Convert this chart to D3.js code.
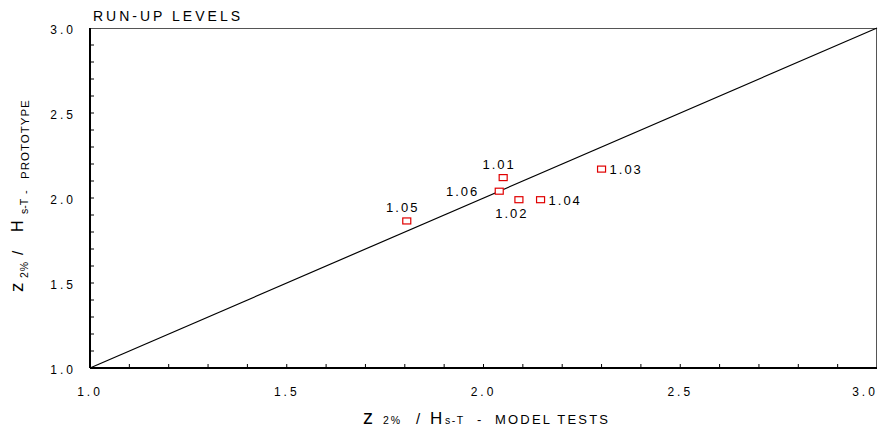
<!DOCTYPE html>
<html>
<head>
<meta charset="utf-8">
<script src="https://cdn.jsdelivr.net/npm/d3@7"></script>
<style>
  body { margin: 0; background: #fff; }
  text { font-family: "Liberation Sans", Arial, sans-serif; fill: #000; }
</style>
</head>
<body>
<div id="wrapper"></div>
<script>
// data
const testIds = ["1.01", "1.02", "1.03", "1.04", "1.05", "1.06"]
const modelTests = [2.05, 2.09, 2.30, 2.145, 1.805, 2.04]
const prototype = [2.12, 1.99, 2.17, 1.99, 1.865, 2.04]
const labelSide = ["above", "below", "right", "right", "above", "left"]
const tickValues = [1.0, 1.5, 2.0, 2.5, 3.0]

const dimensions = {
  width: 889,
  height: 428,
  margin: { top: 28, right: 12, bottom: 60, left: 90 },
}
dimensions.boundedWidth = dimensions.width - dimensions.margin.left - dimensions.margin.right
dimensions.boundedHeight = dimensions.height - dimensions.margin.top - dimensions.margin.bottom

const svg = d3.select("#wrapper").append("svg")
    .attr("width", dimensions.width)
    .attr("height", dimensions.height)

const bounds = svg.append("g")
    .attr("transform", `translate(${dimensions.margin.left},${dimensions.margin.top})`)

const xScale = d3.scaleLinear().domain([1, 3]).range([0, dimensions.boundedWidth])
const yScale = d3.scaleLinear().domain([1, 3]).range([dimensions.boundedHeight, 0])

// frame: thin top/right
bounds.append("line")
    .attr("x1", 0).attr("x2", dimensions.boundedWidth)
    .attr("y1", 0.5).attr("y2", 0.5)
    .attr("stroke", "#555").attr("stroke-width", 1)
bounds.append("line")
    .attr("x1", dimensions.boundedWidth - 0.5).attr("x2", dimensions.boundedWidth - 0.5)
    .attr("y1", 0).attr("y2", dimensions.boundedHeight)
    .attr("stroke", "#555").attr("stroke-width", 1)

// minor ticks (inside)
const minor = d3.range(1.1, 3.0, 0.1)
bounds.selectAll(".xminor").data(minor).join("line")
    .attr("x1", d => xScale(d)).attr("x2", d => xScale(d))
    .attr("y1", dimensions.boundedHeight).attr("y2", dimensions.boundedHeight - 4)
    .attr("stroke", "#000")
bounds.selectAll(".yminor").data(minor).join("line")
    .attr("y1", d => yScale(d)).attr("y2", d => yScale(d))
    .attr("x1", 0).attr("x2", 4)
    .attr("stroke", "#000")

// thick left/bottom axes
bounds.append("line")
    .attr("x1", 0).attr("x2", dimensions.boundedWidth)
    .attr("y1", dimensions.boundedHeight).attr("y2", dimensions.boundedHeight)
    .attr("stroke", "#000").attr("stroke-width", 2)
bounds.append("line")
    .attr("x1", 0).attr("x2", 0)
    .attr("y1", 0).attr("y2", dimensions.boundedHeight)
    .attr("stroke", "#000").attr("stroke-width", 2)

// tick labels (last x label kept inside the window)
bounds.selectAll(".xlab").data(tickValues).join("text")
    .attr("x", d => Math.min(xScale(d), dimensions.boundedWidth - 12))
    .attr("y", dimensions.boundedHeight + 28)
    .attr("text-anchor", "middle")
    .style("font-size", "12px")
    .style("letter-spacing", "3px")
    .text(d => d.toFixed(1))
bounds.selectAll(".ylab").data(tickValues).join("text")
    .attr("x", -14)
    .attr("y", d => yScale(d) + 6)
    .attr("text-anchor", "end")
    .style("font-size", "12px")
    .style("letter-spacing", "3px")
    .text(d => d.toFixed(1))

// 1:1 line
bounds.append("line")
    .attr("x1", xScale(1)).attr("y1", yScale(1))
    .attr("x2", xScale(3)).attr("y2", yScale(3))
    .attr("stroke", "#000").attr("stroke-width", 1.2)

// points
const points = testIds.map((id, i) => ({ id, x: modelTests[i], y: prototype[i], side: labelSide[i] }))
bounds.selectAll(".pt").data(points).join("rect")
    .attr("x", d => xScale(d.x) - 4)
    .attr("y", d => yScale(d.y) - 3)
    .attr("width", 8).attr("height", 6)
    .attr("fill", "#fff").attr("stroke", "#e00000").attr("stroke-width", 1.2)

const offset = {
  above: { dx: -4, dy: -9, anchor: "middle" },
  below: { dx: -7, dy: 18, anchor: "middle" },
  right: { dx: 8, dy: 5, anchor: "start" },
  left: { dx: -20, dy: 5, anchor: "end" },
}
bounds.selectAll(".plab").data(points).join("text")
    .attr("x", d => xScale(d.x) + offset[d.side].dx)
    .attr("y", d => yScale(d.y) + offset[d.side].dy)
    .attr("text-anchor", d => offset[d.side].anchor)
    .style("font-size", "13px")
    .style("letter-spacing", "2px")
    .text(d => d.id)

// title
svg.append("text")
    .attr("x", 93).attr("y", 21)
    .style("font-size", "14px")
    .style("letter-spacing", "3px")
    .text("RUN-UP LEVELS")

// x axis title
const xt = svg.append("text").attr("y", 424)
xt.append("tspan").attr("x", 363).style("font-size", "20px").text("z")
xt.append("tspan").attr("x", 383).style("font-size", "10.5px").style("letter-spacing", "2px").text("2%")
xt.append("tspan").attr("x", 416).style("font-size", "15px").text("/")
xt.append("tspan").attr("x", 430).style("font-size", "17px").text("H")
xt.append("tspan").attr("x", 445).style("font-size", "10.5px").style("letter-spacing", "1.5px").text("s-T")
xt.append("tspan").attr("x", 477).style("font-size", "13px").text("-")
xt.append("tspan").attr("x", 495).style("font-size", "13px").style("letter-spacing", "2.2px").text("MODEL TESTS")

// y axis title (rotated; x' runs upward)
const yt = svg.append("text").attr("transform", "translate(23,0) rotate(-90)")
yt.append("tspan").attr("x", -292).attr("y", 0).style("font-size", "19px").text("z")
yt.append("tspan").attr("x", -278).attr("y", 5).style("font-size", "10.5px").style("letter-spacing", "1px").text("2%")
yt.append("tspan").attr("x", -255).attr("y", 0).style("font-size", "15px").text("/")
yt.append("tspan").attr("x", -232).attr("y", 0).style("font-size", "16px").text("H")
yt.append("tspan").attr("x", -214).attr("y", 5).style("font-size", "10.5px").text("s-T")
yt.append("tspan").attr("x", -194).attr("y", 6).style("font-size", "11px").text("-")
yt.append("tspan").attr("x", -179).attr("y", 6).style("font-size", "11.5px").style("letter-spacing", "1px").text("PROTOTYPE")
</script>
</body>
</html>
